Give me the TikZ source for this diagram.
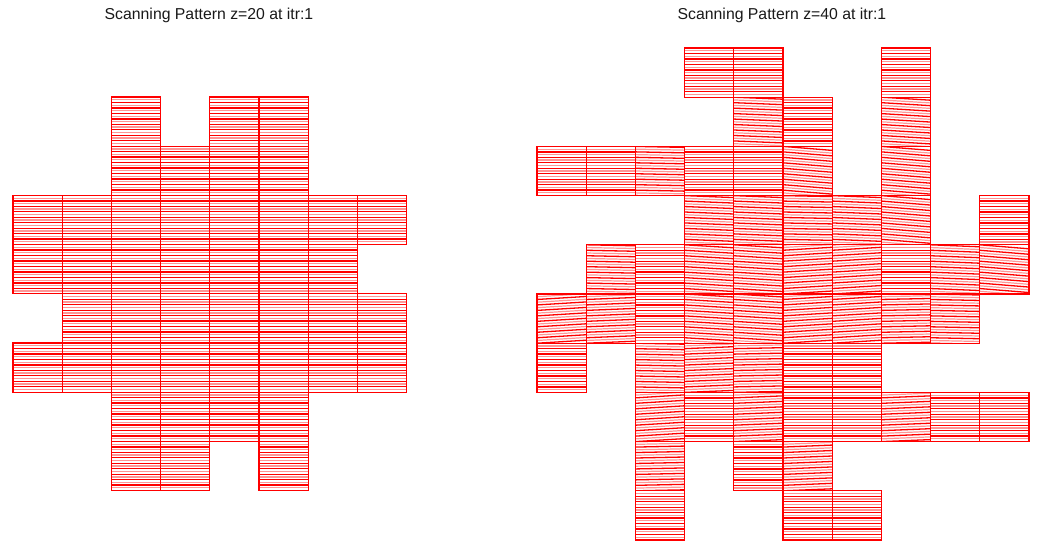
\documentclass[tikz,border=0pt]{standalone}
\usepackage{fontspec}
\setmainfont{Liberation Sans}

\definecolor{scanred}{RGB}{255,0,0}
\definecolor{scanpink}{RGB}{255,150,150}

\newcommand{\cellw}{49.2}
\newcommand{\scancell}[3]{%
  \begin{scope}
    \clip (#1,#2) rectangle ++(\cellw,\cellw);
    \foreach \k in {0,...,8}
      \draw[faintline] (#1,{#2+(\k+0.5)*\cellw/9}) -- ++(\cellw,#3);
    \foreach \k in {-1,...,10}
      \draw[scanline] (#1,{#2+\k*\cellw/9}) -- ++(\cellw,#3);
  \end{scope}
  \draw[cellbox] (#1,#2) rectangle ++(\cellw,\cellw);
}

\tikzset{
  scanline/.style={draw=scanred, line width=1.3pt},
  faintline/.style={draw=scanpink, line width=1.2pt},
  cellbox/.style={draw=scanred, line width=1.3pt},
  title/.style={font=\fontsize{15.8}{18}\selectfont, text=black!90}
}

\begin{document}
\begin{tikzpicture}[x=1pt, y=-1pt]
  \useasboundingbox (0,0) rectangle (1042,552);

  \node[title] (lefttitle) at (209,15) {Scanning Pattern z=20 at itr:1};
  \node[title] (righttitle) at (782,15) {Scanning Pattern z=40 at itr:1};

  \foreach \c/\r in {2/0,4/0,5/0, 2/1,3/1,4/1,5/1,
      0/2,1/2,2/2,3/2,4/2,5/2,6/2,7/2,
      0/3,1/3,2/3,3/3,4/3,5/3,6/3,
      1/4,2/4,3/4,4/4,5/4,6/4,7/4,
      0/5,1/5,2/5,3/5,4/5,5/5,6/5,7/5,
      2/6,3/6,4/6,5/6, 2/7,3/7,5/7}
    \scancell{13+\c*\cellw}{97+\r*\cellw}{0};

  \foreach \c/\r/\d in {3/0/0,4/0/0,7/0/0,
      4/1/2,5/1/0,7/1/3,
      0/2/0,1/2/0,2/2/1,3/2/0,4/2/0,5/2/4,7/2/4,
      3/3/2,4/3/2,5/3/1,6/3/2,7/3/4,9/3/0,
      1/4/1,2/4/0,3/4/3,4/4/3,5/4/-3,6/4/-3,7/4/0,8/4/2,9/4/4,
      0/5/-3,1/5/-2,2/5/0,3/5/3,4/5/3,5/5/-3,6/5/-3,7/5/-1,8/5/1,
      0/6/0,2/6/1,3/6/-2,4/6/-1,5/6/0,6/6/0,
      2/7/-3,3/7/0,4/7/-2,5/7/0,6/7/0,7/7/-2,8/7/0,9/7/0,
      2/8/-1,4/8/0,5/8/-2,
      2/9/0,5/9/0,6/9/0}
    \scancell{537+\c*\cellw}{48+\r*\cellw}{\d};
\end{tikzpicture}
\end{document}
